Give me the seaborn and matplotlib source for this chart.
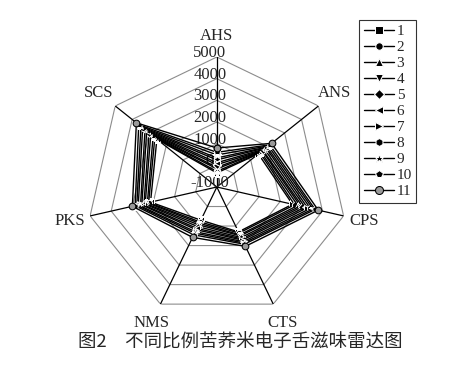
import numpy as np
import pandas as pd
import matplotlib
matplotlib.use("Agg")
import matplotlib.pyplot as plt
import seaborn as sns

categories = ["AHS", "ANS", "CPS", "CTS", "NMS", "PKS", "SCS"]
series = ["1", "2", "3", "4", "5", "6", "7", "8", "9", "10", "11"]
AHS = [-350, -280, -160, -90, 30, 120, 250, 340, 480, 600, 800]
ANS = [1450, 1540, 1600, 1680, 1720, 1810, 1900, 1960, 2040, 2120, 2230]
CPS = [2580, 2680, 2830, 2950, 3050, 3170, 3290, 3430, 3550, 3650, 3800]
CTS = [1300, 1360, 1450, 1500, 1590, 1660, 1720, 1800, 1870, 1930, 2040]
NMS = [700, 790, 860, 940, 1030, 1120, 1190, 1290, 1360, 1450, 1580]
PKS = [2140, 2230, 2290, 2390, 2450, 2550, 2610, 2720, 2790, 2870, 3000]
SCS = [2540, 2660, 2760, 2900, 3000, 3140, 3240, 3380, 3480, 3610, 3750]
radial_ticks = [-1000, 0, 1000, 2000, 3000, 4000, 5000]
caption = "图2\u3000不同比例苦荞米电子舌滋味雷达图"

axes_values = [AHS, ANS, CPS, CTS, NMS, PKS, SCS]
markers = ["s", "o", "^", "v", "D", "<", ">", "h", "*", "p", "o"]
msizes = [4.5, 4.5, 5.0, 5.0, 4.0, 5.0, 5.0, 4.8, 5.5, 4.8, 4.8]

sns.set_style("white")
plt.rcParams["font.family"] = ["Liberation Serif", "Noto Sans CJK SC"]

n = len(categories)
theta = np.arange(n) * 2 * np.pi / n
rows = []
for i, s in enumerate(series):
    for k in range(n + 1):
        j = k % n
        rows.append({"series": s, "order": k, "theta": theta[j] if k < n else 2 * np.pi,
                     "value": axes_values[j][i]})
df = pd.DataFrame(rows)

fig = plt.figure(figsize=(4.57, 3.68), dpi=100)
ax = fig.add_axes([0.190, 0.1386, 0.569, 0.7065], projection="polar")
ax.set_theta_zero_location("N")
ax.set_theta_direction(-1)
ax.set_ylim(radial_ticks[0], radial_ticks[-1])

# heptagon grid
closed = np.r_[theta, 2 * np.pi]
for r in radial_ticks[1:]:
    ax.plot(closed, [r] * (n + 1), color="#8c8c8c", lw=0.8, zorder=1)
for t in theta:
    ax.plot([t, t], [radial_ticks[0], radial_ticks[-1]], color="black", lw=0.9, zorder=1)

handles = []
for i, s in enumerate(series):
    sub = df[df["series"] == s]
    kw = {}
    if i == 10:
        kw = {"mfc": "#9a9a9a", "mec": "black"}
    sns.lineplot(data=sub, x="theta", y="value", sort=False, estimator=None,
                 color="black", marker=markers[i], markersize=msizes[i],
                 lw=1.0, ax=ax, legend=False, zorder=3, **kw)
    line = ax.lines[-1]
    line.set_label(s)
    handles.append(line)

ax.set_xticks([])
ax.set_yticks([])
ax.grid(False)
ax.spines["polar"].set_visible(False)
ax.set_xlabel("")
ax.set_ylabel("")
ax.patch.set_alpha(0)

for t, c in zip(theta, categories):
    ax.text(t, 5950, c, ha="center", va="center", fontsize=12,
            family="Liberation Serif")

for v in radial_ticks:
    ax.annotate(str(v), xy=(0, v), xytext=(-5, 3), textcoords="offset points",
                ha="center", va="center", fontsize=12, family="Liberation Serif",
                zorder=2)

leg = fig.legend(handles=handles, loc="upper left", bbox_to_anchor=(0.786, 0.946),
                 frameon=True, fancybox=False, edgecolor="black", fontsize=11,
                 handlelength=2.0, handletextpad=0.15, labelspacing=0.15,
                 borderpad=0.3, borderaxespad=0, markerscale=1.2)
leg.get_frame().set_linewidth(0.8)

fig.text(0.525, 0.068, caption, ha="center", va="center", fontsize=13.3,
         family=["Noto Sans CJK SC", "DejaVu Sans"])

fig.savefig("out.png", dpi=100)
